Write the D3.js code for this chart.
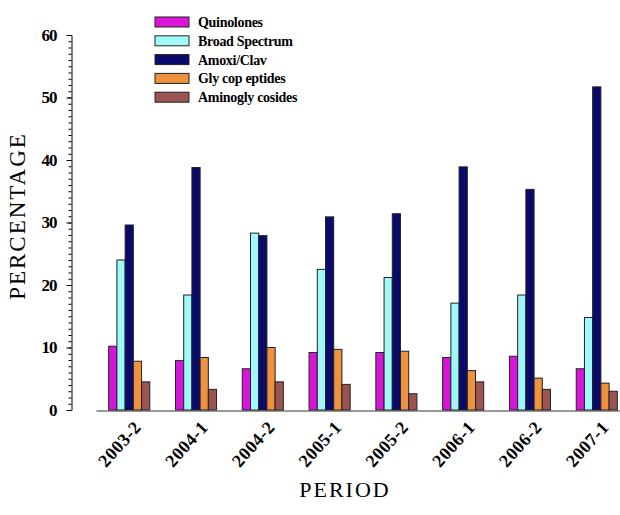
<!DOCTYPE html>
<html>
<head>
<meta charset="utf-8">
<script src="https://cdn.jsdelivr.net/npm/d3@7"></script>
<style>
  html, body { margin: 0; padding: 0; background: #fff; }
  svg { display: block; }
</style>
</head>
<body>
<svg id="chart" width="620" height="515"></svg>
<script>
const periods = ["2003-2", "2004-1", "2004-2", "2005-1", "2005-2", "2006-1", "2006-2", "2007-1"];
const seriesNames = ["Quinolones", "Broad Spectrum", "Amoxi/Clav", "Gly cop eptides", "Aminogly cosides"];
const quinolones = [10.2, 7.9, 6.6, 9.2, 9.2, 8.4, 8.6, 6.6];
const broadSpectrum = [24.0, 18.4, 28.3, 22.5, 21.2, 17.1, 18.4, 14.8];
const amoxiClav = [29.6, 38.8, 27.9, 30.9, 31.4, 38.9, 35.3, 51.7];
const glycopeptides = [7.8, 8.4, 10.0, 9.7, 9.4, 6.3, 5.1, 4.3];
const aminoglycosides = [4.5, 3.3, 4.5, 4.1, 2.6, 4.5, 3.3, 3.0];
const yTicks = [0, 10, 20, 30, 40, 50, 60];
const colors = ["#d816d8", "#a0f8f8", "#0a0a6a", "#ee9240", "#9a5452"];

const seriesValues = [quinolones, broadSpectrum, amoxiClav, glycopeptides, aminoglycosides];

const svg = d3.select("#chart");
const serif = "'Liberation Serif', 'Times New Roman', serif";

const y = d3.scaleLinear().domain([0, 60]).range([410, 35]);
const x = d3.scaleBand().domain(periods).range([96, 630]).paddingInner(0.385).paddingOuter(0.19);
const xs = d3.scaleBand().domain(d3.range(seriesNames.length)).range([0, x.bandwidth()]);

// minor y ticks
svg.append("g")
  .attr("transform", "translate(71.5,0)")
  .call(d3.axisLeft(y).ticks(60).tickSize(3).tickSizeOuter(0).tickFormat(""))
  .call(g => g.select(".domain").attr("stroke", "#000"))
  .call(g => g.selectAll("line").attr("stroke", "#000"));

// major y ticks
svg.append("g")
  .attr("transform", "translate(71.5,0)")
  .call(d3.axisLeft(y).tickValues(yTicks).tickSize(5).tickSizeOuter(0).tickPadding(10))
  .call(g => g.select(".domain").remove())
  .call(g => g.selectAll("line").attr("stroke", "#000"))
  .call(g => g.selectAll("text")
    .attr("font-family", serif).attr("font-weight", "bold")
    .attr("font-size", 17).attr("letter-spacing", "-1px").attr("fill", "#000"));

// bars
const groups = svg.append("g").selectAll("g")
  .data(periods)
  .join("g")
  .attr("transform", d => `translate(${x(d)},0)`);

groups.selectAll("rect")
  .data((p, i) => seriesValues.map((vals, s) => ({ s, v: vals[i] })))
  .join("rect")
  .attr("x", d => xs(d.s))
  .attr("y", d => y(d.v))
  .attr("width", xs.bandwidth())
  .attr("height", d => y(0) - y(d.v))
  .attr("fill", d => colors[d.s])
  .attr("stroke", "#222")
  .attr("stroke-width", 1);

// x axis
svg.append("g")
  .attr("transform", "translate(0,410.5)")
  .call(d3.axisBottom(x).tickSize(0).tickSizeOuter(0).tickFormat(""))
  .call(g => g.select(".domain").attr("stroke", "#333").attr("stroke-width", 1.2));

svg.append("g").selectAll("text")
  .data(periods)
  .join("text")
  .attr("transform", d => `translate(${x(d) + x.bandwidth() / 2 + 13},428) rotate(-48)`)
  .attr("text-anchor", "end")
  .attr("font-family", serif).attr("font-weight", "bold")
  .attr("font-size", 18).attr("letter-spacing", "0.5px")
  .text(d => d);

// axis titles
svg.append("text")
  .attr("transform", "translate(25,216) rotate(-90)")
  .attr("text-anchor", "middle")
  .attr("font-family", serif).attr("font-size", 23).attr("letter-spacing", "2px")
  .text("PERCENTAGE");

svg.append("text")
  .attr("x", 345).attr("y", 497)
  .attr("text-anchor", "middle")
  .attr("font-family", serif).attr("font-size", 22).attr("letter-spacing", "2px")
  .text("PERIOD");

// legend
const legend = svg.append("g").selectAll("g")
  .data(seriesNames)
  .join("g")
  .attr("transform", (d, i) => `translate(155,${22 + i * 18.8})`);
legend.append("rect")
  .attr("x", 0).attr("y", -5).attr("width", 34).attr("height", 10)
  .attr("fill", (d, i) => colors[i]).attr("stroke", "#222").attr("stroke-width", 1);
legend.append("text")
  .attr("x", 43).attr("y", 5)
  .attr("font-family", serif).attr("font-weight", "bold")
  .attr("font-size", 14).attr("letter-spacing", "-0.3px")
  .text(d => d);
</script>
</body>
</html>
